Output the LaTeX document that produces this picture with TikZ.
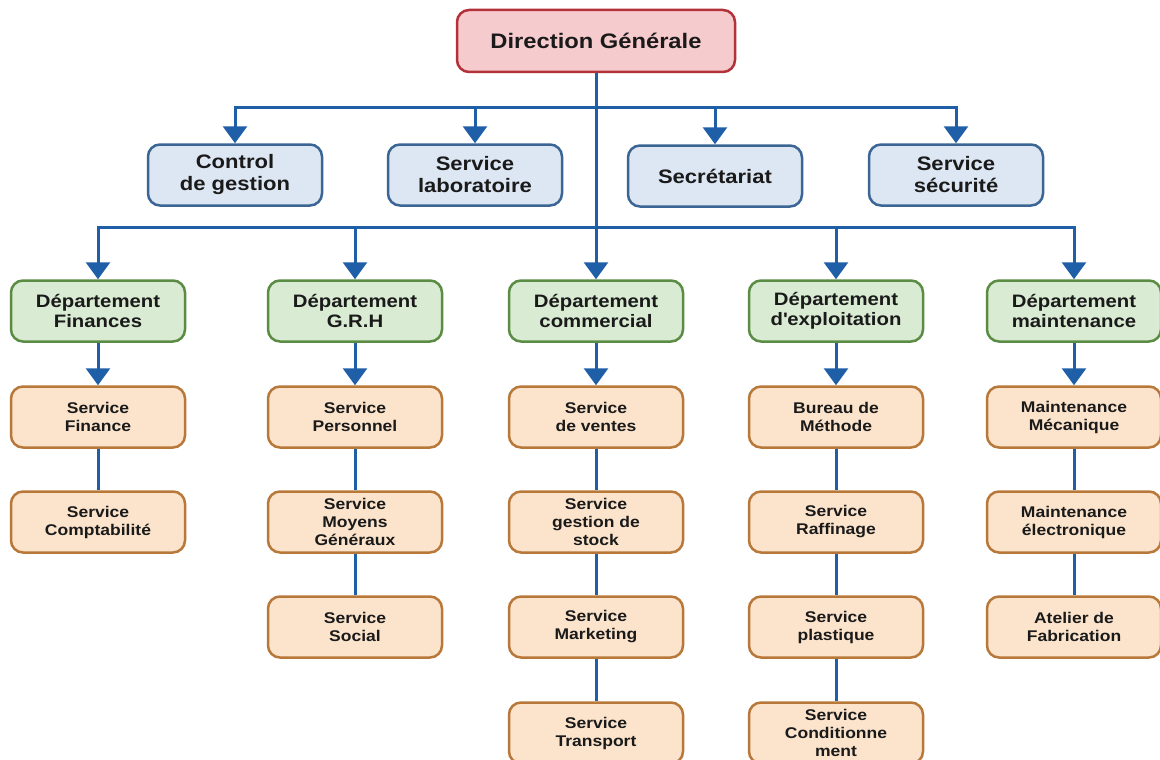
\documentclass[tikz,border=0pt]{standalone}
\usepackage{fontspec}
\setmainfont{Liberation Sans}[FakeStretch=1.13]
\usetikzlibrary{arrows.meta}
\definecolor{redf}{HTML}{F6CBCD}
\definecolor{redd}{HTML}{B3323A}
\definecolor{bluef}{HTML}{DDE7F3}
\definecolor{blued}{HTML}{3A6594}
\definecolor{greenf}{HTML}{D9EBD3}
\definecolor{greend}{HTML}{5B8C44}
\definecolor{orf}{HTML}{FCE4CC}
\definecolor{ord}{HTML}{B7783A}
\definecolor{conn}{HTML}{1F5FA8}
\definecolor{txt}{HTML}{1A1A1A}
\begin{document}
\begin{tikzpicture}[x=1pt,y=-1pt,
  box/.style={draw, line width=2.5pt, rounded corners=12pt, minimum width=174pt,
    minimum height=61pt, align=center, inner sep=2pt, text=txt},
  dgbox/.style={box, fill=redf, draw=redd, minimum width=278pt, minimum height=62pt,
    font=\bfseries\fontsize{21}{24}\selectfont},
  bluebox/.style={box, fill=bluef, draw=blued, font=\bfseries\fontsize{19.5}{22}\selectfont},
  greenbox/.style={box, fill=greenf, draw=greend, font=\bfseries\fontsize{18}{20}\selectfont},
  orbox/.style={box, fill=orf, draw=ord, font=\bfseries\fontsize{15.5}{18}\selectfont},
  link/.style={draw=conn, line width=3pt},
  arr/.style={link, -{Triangle[width=24pt,length=17pt]}}
]
\useasboundingbox (0,0) rectangle (1160,760);
\fill[white] (0,0) rectangle (1160,760);

\coordinate (b1) at (0,107);
\coordinate (b2) at (0,227);

% top
\node[dgbox] (dg) at (596,41) {Direction Générale};

% blue row
\node[bluebox] (cg)  at (235,175) {Control\\de gestion};
\node[bluebox] (sl)  at (475,175) {Service\\laboratoire};
\node[bluebox] (sec) at (715,176) {Secrétariat};
\node[bluebox] (ss)  at (956,175) {Service\\sécurité};

% green row
\node[greenbox] (df)   at (98,311)  {Département\\Finances};
\node[greenbox] (dgrh) at (355,311) {Département\\G.R.H};
\node[greenbox] (dcom) at (596,311) {Département\\commercial};
\node[greenbox] (dexp) at (836,311) {Département\\d\textquotesingle exploitation};
\node[greenbox] (dmt)  at (1074,311) {Département\\maintenance};

% orange rows
\node[orbox] (sfin)  at (98,417)  {Service\\Finance};
\node[orbox] (scomp) at (98,522)  {Service\\Comptabilité};

\node[orbox] (sper) at (355,417) {Service\\Personnel};
\node[orbox] (smg)  at (355,522) {Service\\Moyens\\Généraux};
\node[orbox] (ssoc) at (355,627) {Service\\Social};

\node[orbox] (sv)  at (596,417) {Service\\de ventes};
\node[orbox] (sgs) at (596,522) {Service\\gestion de\\stock};
\node[orbox] (smk) at (596,627) {Service\\Marketing};
\node[orbox] (str) at (596,733) {Service\\Transport};

\node[orbox] (bm)    at (836,417) {Bureau de\\Méthode};
\node[orbox] (sraf)  at (836,522) {Service\\Raffinage};
\node[orbox] (spl)   at (836,627) {Service\\plastique};
\node[orbox] (scond) at (836,733) {Service\\Conditionne\\ment};

\node[orbox] (mm) at (1074,417) {Maintenance\\Mécanique};
\node[orbox] (me) at (1074,522) {Maintenance\\électronique};
\node[orbox] (af) at (1074,627) {Atelier de\\Fabrication};

% connectors top -> blue
\foreach \n in {cg,sl,sec,ss}
  \draw[arr] (dg.south) -- (dg.south |- b1) -| (\n.north);
% top -> green
\foreach \n in {df,dgrh,dexp,dmt}
  \draw[arr] (dg.south) -- (dg.south |- b2) -| (\n.north);
\draw[arr] (dg.south) -- (dcom.north);

% green -> first orange
\draw[arr] (df.south) -- (sfin.north);
\draw[arr] (dgrh.south) -- (sper.north);
\draw[arr] (dcom.south) -- (sv.north);
\draw[arr] (dexp.south) -- (bm.north);
\draw[arr] (dmt.south) -- (mm.north);

% orange chains
\draw[link] (sfin) -- (scomp);
\draw[link] (sper) -- (smg);
\draw[link] (smg) -- (ssoc);
\draw[link] (sv) -- (sgs);
\draw[link] (sgs) -- (smk);
\draw[link] (smk) -- (str);
\draw[link] (bm) -- (sraf);
\draw[link] (sraf) -- (spl);
\draw[link] (spl) -- (scond);
\draw[link] (mm) -- (me);
\draw[link] (me) -- (af);
\end{tikzpicture}
\end{document}
